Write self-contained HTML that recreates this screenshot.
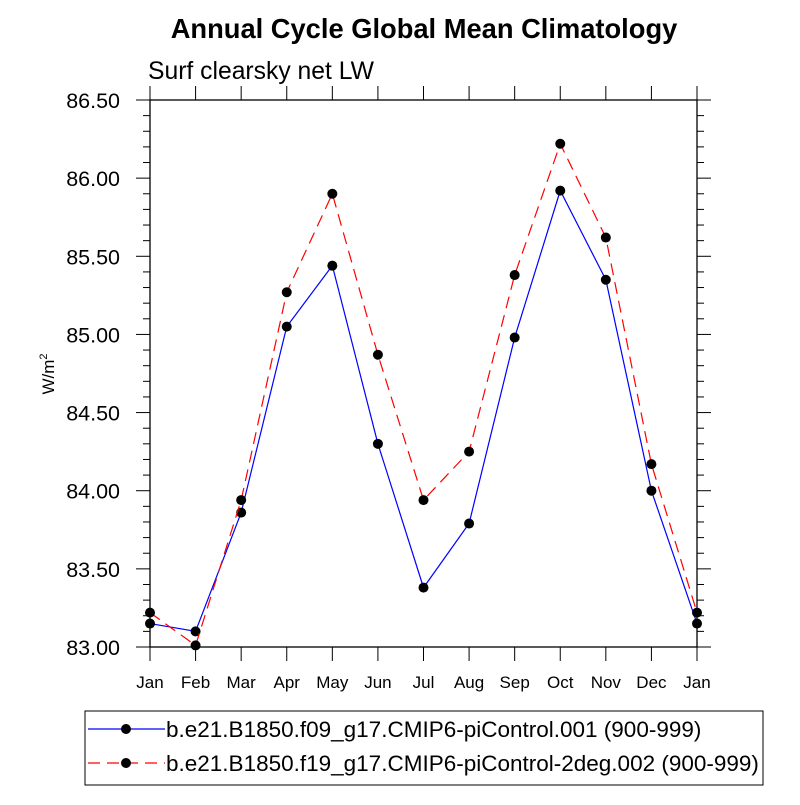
<!DOCTYPE html>
<html><head><meta charset="utf-8"><style>
body{margin:0;background:#fff;}
svg text{font-family:"Liberation Sans",sans-serif;}
</style></head><body>
<svg id="chart" width="800" height="800" xmlns="http://www.w3.org/2000/svg">
<text x="424" y="38" font-size="27.3" font-weight="bold" text-anchor="middle">Annual Cycle Global Mean Climatology</text>
<text x="148" y="79" font-size="24.7">Surf clearsky net LW</text>
<text transform="translate(54,374) rotate(-90)" font-size="17" text-anchor="middle">W/m<tspan dy="-7" font-size="11">2</tspan></text>
<g id="axes"></g>
<g id="series"></g>
<g>
<rect x="85" y="711" width="678" height="74" fill="none" stroke="#000" stroke-width="1"/>
<line x1="88" y1="729" x2="165" y2="729" stroke="#00f" stroke-width="1.2"/>
<circle cx="126" cy="729" r="5" fill="#000"/>
<text x="166" y="737" font-size="22.5">b.e21.B1850.f09_g17.CMIP6-piControl.001 (900-999)</text>
<line x1="88" y1="763" x2="165" y2="763" stroke="#f00" stroke-width="1.2" stroke-dasharray="12,7"/>
<circle cx="126" cy="763" r="5" fill="#000"/>
<text x="166" y="771" font-size="22.5">b.e21.B1850.f19_g17.CMIP6-piControl-2deg.002 (900-999)</text>
</g>
</svg>
<script>
const months=["Jan","Feb","Mar","Apr","May","Jun","Jul","Aug","Sep","Oct","Nov","Dec","Jan"];
const seriesA=[83.15,83.10,83.86,85.05,85.44,84.30,83.38,83.79,84.98,85.92,85.35,84.00,83.15];
const seriesB=[83.22,83.01,83.94,85.27,85.90,84.87,83.94,84.25,85.38,86.22,85.62,84.17,83.22];
const yTicks=[83.0,83.5,84.0,84.5,85.0,85.5,86.0,86.5];
const X0=150,X1=697,Y0=647,Y1=100,ymin=83,ymax=86.5;
const xs=i=>X0+(X1-X0)*i/(months.length-1);
const ys=v=>Y0-(v-ymin)/(ymax-ymin)*(Y0-Y1);
const NS="http://www.w3.org/2000/svg";
function mk(tag,attrs,parent){const e=document.createElementNS(NS,tag);for(const k in attrs)e.setAttribute(k,attrs[k]);parent.appendChild(e);return e;}
const ax=document.getElementById('axes');
const frame=mk('rect',{x:X0,y:Y1,width:X1-X0,height:Y0-Y1,fill:'none',stroke:'#000','stroke-width':1.3},ax);


for(let v=83;v<=86.501;v+=0.1){const y=ys(v);const major=Math.abs(v*2-Math.round(v*2))<1e-6;const L=major?14:7;
mk('line',{x1:X0-L,y1:y,x2:X0,y2:y,stroke:'#000','stroke-width':1},ax);
mk('line',{x1:X1,y1:y,x2:X1+L,y2:y,stroke:'#000','stroke-width':1},ax);}
yTicks.forEach(v=>{const t=mk('text',{x:120,y:ys(v)+8,'font-size':21.5,'text-anchor':'end'},ax);t.textContent=v.toFixed(2);

});
months.forEach((m,i)=>{const x=xs(i);
mk('line',{x1:x,y1:Y0,x2:x,y2:Y0+14,stroke:'#000','stroke-width':1},ax);
mk('line',{x1:x,y1:Y1,x2:x,y2:Y1-14,stroke:'#000','stroke-width':1},ax);
const t=mk('text',{x:x,y:Y0+41,'font-size':17,'text-anchor':'middle'},ax);t.textContent=m;

});
const sg=document.getElementById('series');
function draw(vals,color,dash,name){
const p=mk('polyline',{points:vals.map((v,i)=>xs(i)+','+ys(v)).join(' '),fill:'none',stroke:color,'stroke-width':1.2,'stroke-dasharray':dash},sg);


vals.forEach((v,i)=>{const c=mk('circle',{cx:xs(i),cy:ys(v),r:5,fill:'#000'},sg);

});}
draw(seriesA,'#00f','none','series-control-001');
draw(seriesB,'#f00','12,7','series-control-2deg');
</script>
</body></html>
